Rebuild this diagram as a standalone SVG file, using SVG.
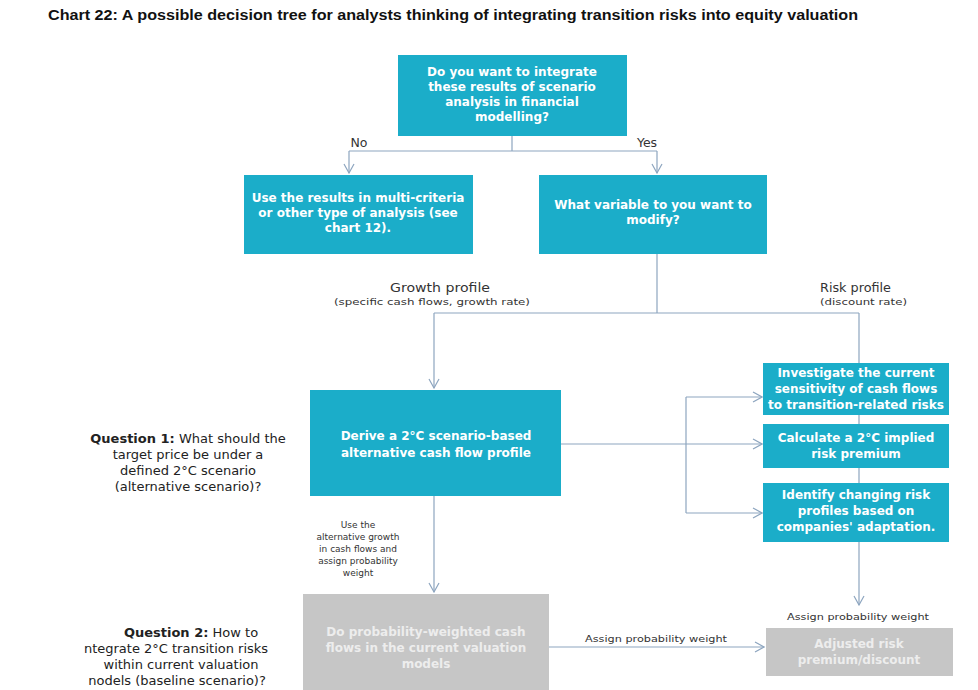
<svg xmlns="http://www.w3.org/2000/svg" width="978" height="690" viewBox="0 0 978 690">
<defs>
<marker id="arr" viewBox="0 0 12 12" refX="11" refY="6" markerWidth="12" markerHeight="12" markerUnits="userSpaceOnUse" orient="auto">
<path d="M2,1 L11,6 L2,11" fill="none" stroke="#8DA5BF" stroke-width="1.2"/>
</marker>
<style>
.teal{fill:#1BADC9}
.gray{fill:#C6C6C6}
.bt{font-family:"DejaVu Sans","Liberation Sans",sans-serif;font-weight:bold;font-size:12px;fill:#FFFFFF;text-anchor:middle}
.gt{font-family:"DejaVu Sans","Liberation Sans",sans-serif;font-weight:bold;font-size:12px;fill:#EDEDED;text-anchor:middle}
.lbl{font-family:"DejaVu Sans","Liberation Sans",sans-serif;font-size:12.5px;fill:#333;text-anchor:middle}
.sm{font-family:"DejaVu Sans","Liberation Sans",sans-serif;font-size:9px;fill:#333;text-anchor:middle}
.q{font-family:"DejaVu Sans","Liberation Sans",sans-serif;font-size:13px;fill:#222;text-anchor:middle}
.ln{fill:none;stroke:#8DA5BF;stroke-width:1.2}
</style>
</defs>
<rect width="978" height="690" fill="#FFFFFF"/>
<text x="48" y="20" font-family="Liberation Sans,Arial,sans-serif" font-weight="bold" font-size="14" fill="#111" textLength="810" lengthAdjust="spacingAndGlyphs">Chart 22: A possible decision tree for analysts thinking of integrating transition risks into equity valuation</text>

<g id="connectors">
<polyline class="ln" points="512,136 512,151"/>
<polyline class="ln" points="349,151 657,151"/>
<polyline class="ln" points="349,151 349,173" marker-end="url(#arr)"/>
<polyline class="ln" points="657,151 657,173" marker-end="url(#arr)"/>
<polyline class="ln" points="657,254 657,313"/>
<polyline class="ln" points="434,313 859,313"/>
<polyline class="ln" points="434,313 434,388" marker-end="url(#arr)"/>
<polyline class="ln" points="859,313 859,605" marker-end="url(#arr)"/>
<polyline class="ln" points="561,444 762,444" marker-end="url(#arr)"/>
<polyline class="ln" points="686,397 686,513"/>
<polyline class="ln" points="686,397 762,397" marker-end="url(#arr)"/>
<polyline class="ln" points="686,513 762,513" marker-end="url(#arr)"/>
<polyline class="ln" points="434,496 434,592" marker-end="url(#arr)"/>
<polyline class="ln" points="549,647 764,647" marker-end="url(#arr)"/>
<text class="lbl" x="359" y="147">No</text>
<text class="lbl" x="647" y="147">Yes</text>
<text class="lbl" x="440" y="292" textLength="100" lengthAdjust="spacingAndGlyphs">Growth profile</text>
<text class="sm" x="432" y="305" textLength="196" lengthAdjust="spacingAndGlyphs">(specific cash flows, growth rate)</text>
<text class="lbl" x="820" y="292" style="text-anchor:start" textLength="71" lengthAdjust="spacingAndGlyphs">Risk profile</text>
<text class="sm" x="820" y="305" style="text-anchor:start" textLength="87" lengthAdjust="spacingAndGlyphs">(discount rate)</text>
<text class="sm" x="358" y="528">Use the</text>
<text class="sm" x="358" y="540">alternative growth</text>
<text class="sm" x="358" y="552">in cash flows and</text>
<text class="sm" x="358" y="564">assign probability</text>
<text class="sm" x="358" y="576">weight</text>
<text class="sm" x="656" y="642" textLength="142" lengthAdjust="spacingAndGlyphs">Assign probability weight</text>
<text class="sm" x="858" y="620" textLength="142" lengthAdjust="spacingAndGlyphs">Assign probability weight</text>
</g>

<g id="n-integrate">
<rect class="teal" x="398" y="55" width="229" height="81"/>
<text class="bt" x="512" y="76">Do you want to integrate</text>
<text class="bt" x="512" y="91">these results of scenario</text>
<text class="bt" x="512" y="106">analysis in financial</text>
<text class="bt" x="512" y="121">modelling?</text>
</g>

<g id="n-multicriteria">
<rect class="teal" x="244" y="175" width="229" height="79"/>
<text class="bt" x="358" y="202">Use the results in multi-criteria</text>
<text class="bt" x="358" y="217">or other type of analysis (see</text>
<text class="bt" x="358" y="232">chart 12).</text>
</g>

<g id="n-variable">
<rect class="teal" x="539" y="175" width="228" height="79"/>
<text class="bt" x="653" y="209">What variable to you want to</text>
<text class="bt" x="653" y="224">modify?</text>
</g>

<g id="n-derive">
<rect class="teal" x="310" y="390" width="251" height="106"/>
<text class="bt" x="436" y="440">Derive a 2°C scenario-based</text>
<text class="bt" x="436" y="457">alternative cash flow profile</text>
</g>

<g id="n-investigate">
<rect class="teal" x="763" y="363" width="186" height="52"/>
<text class="bt" x="856" y="377">Investigate the current</text>
<text class="bt" x="856" y="393">sensitivity of cash flows</text>
<text class="bt" x="856" y="409" textLength="176" lengthAdjust="spacingAndGlyphs">to transition-related risks</text>
</g>

<g id="n-calculate">
<rect class="teal" x="763" y="424" width="186" height="44"/>
<text class="bt" x="856" y="442">Calculate a 2°C implied</text>
<text class="bt" x="856" y="458">risk premium</text>
</g>

<g id="n-identify">
<rect class="teal" x="763" y="483" width="186" height="59"/>
<text class="bt" x="856" y="499">Identify changing risk</text>
<text class="bt" x="856" y="515">profiles based on</text>
<text class="bt" x="856" y="531">companies' adaptation.</text>
</g>

<g id="n-probweighted">
<rect class="gray" x="303" y="594" width="246" height="96"/>
<text class="gt" x="426" y="636">Do probability-weighted cash</text>
<text class="gt" x="426" y="652">flows in the current valuation</text>
<text class="gt" x="426" y="668">models</text>
</g>

<g id="n-adjusted">
<rect class="gray" x="766" y="628" width="187" height="48"/>
<text class="gt" x="859" y="648">Adjusted risk</text>
<text class="gt" x="859" y="664">premium/discount</text>
</g>

<g id="q1">
<text class="q" x="188" y="443"><tspan font-weight="bold">Question 1:</tspan> What should the</text>
<text class="q" x="188" y="459">target price be under a</text>
<text class="q" x="188" y="475">defined 2°C scenario</text>
<text class="q" x="188" y="491">(alternative scenario)?</text>
</g>

<g id="q2">
<text class="q" x="191" y="637"><tspan font-weight="bold">Question 2:</tspan> How to</text>
<text class="q" x="176" y="653">ntegrate 2°C transition risks</text>
<text class="q" x="181" y="669">within current valuation</text>
<text class="q" x="177" y="685">nodels (baseline scenario)?</text>
</g>
</svg>
